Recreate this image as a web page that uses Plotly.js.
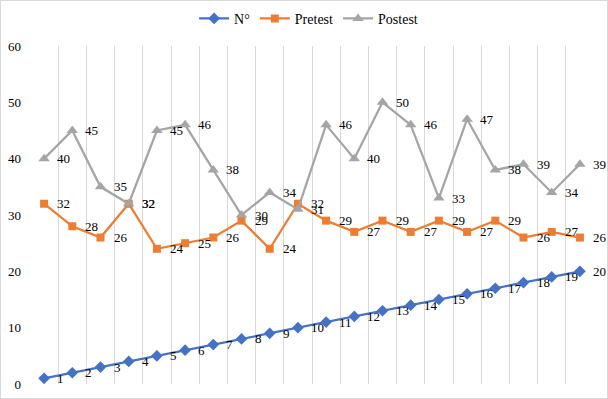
<!DOCTYPE html>
<html>
<head>
<meta charset="utf-8">
<script src="https://cdn.plot.ly/plotly-3.0.1.min.js"></script>
<style>
  html, body { margin: 0; padding: 0; background: #fff; }
  #chart { width: 608px; height: 399px; box-sizing: border-box; border: 1px solid #d9d9d9; }
</style>
</head>
<body>
<div id="chart"></div>
<script>
const categories = [1,2,3,4,5,6,7,8,9,10,11,12,13,14,15,16,17,18,19,20];
const nValues = [1,2,3,4,5,6,7,8,9,10,11,12,13,14,15,16,17,18,19,20];
const pretest = [32,28,26,32,24,25,26,29,24,32,29,27,29,27,29,27,29,26,27,26];
const postest = [40,45,35,32,45,46,38,30,34,31,46,40,50,46,33,47,38,39,34,39];
const seriesNames = ['N°', 'Pretest', 'Postest'];
const yTicks = [0,10,20,30,40,50,60];

const FONT = '"Liberation Serif", "Times New Roman", serif';
const colors = ['#4472C4', '#ED7D31', '#A5A5A5'];
const symbols = ['diamond', 'square', 'triangle-up'];
const sizes = [9, 8, 10];
const allSeries = [nValues, pretest, postest];

const traces = allSeries.map((vals, i) => ({
  type: 'scatter',
  mode: 'lines+markers',
  x: categories,
  y: vals,
  name: seriesNames[i],
  line: { color: colors[i], width: 2.25 },
  marker: { color: colors[i], symbol: symbols[i], size: sizes[i] },
  hoverinfo: 'none'
}));

const annotations = [];
allSeries.forEach((vals) => {
  vals.forEach((v, j) => {
    annotations.push({
      x: categories[j], y: v, xref: 'x', yref: 'y',
      text: String(v), showarrow: false,
      xanchor: 'left', yanchor: 'middle', xshift: 11,
      font: { family: FONT, size: 13, color: '#000' }
    });
  });
});

const layout = {
  width: 606, height: 397,
  margin: { l: 29, r: 13, t: 45, b: 14, autoexpand: false },
  paper_bgcolor: '#fff', plot_bgcolor: '#fff',
  font: { family: FONT, size: 13, color: '#000' },
  showlegend: true,
  legend: {
    orientation: 'h', x: 0.494, xanchor: 'center',
    yref: 'container', y: 0.955, yanchor: 'middle',
    font: { family: FONT, size: 14, color: '#000' },
    itemclick: false
  },
  xaxis: {
    type: 'linear', range: [0.5, 20.5],
    tick0: 0.5, dtick: 1, showticklabels: false, ticks: '',
    showgrid: true, gridcolor: '#d9d9d9', gridwidth: 1,
    zeroline: false, showline: false, fixedrange: true
  },
  yaxis: {
    range: [0, 60], tickvals: yTicks, ticktext: yTicks.map(String),
    showgrid: false, zeroline: false, showline: false, ticks: '',
    ticklabelstandoff: 8,
    tickfont: { family: FONT, size: 13, color: '#000' }, fixedrange: true
  },
  annotations: annotations
};

Plotly.newPlot('chart', traces, layout, { staticPlot: true, displayModeBar: false });
</script>
</body>
</html>
